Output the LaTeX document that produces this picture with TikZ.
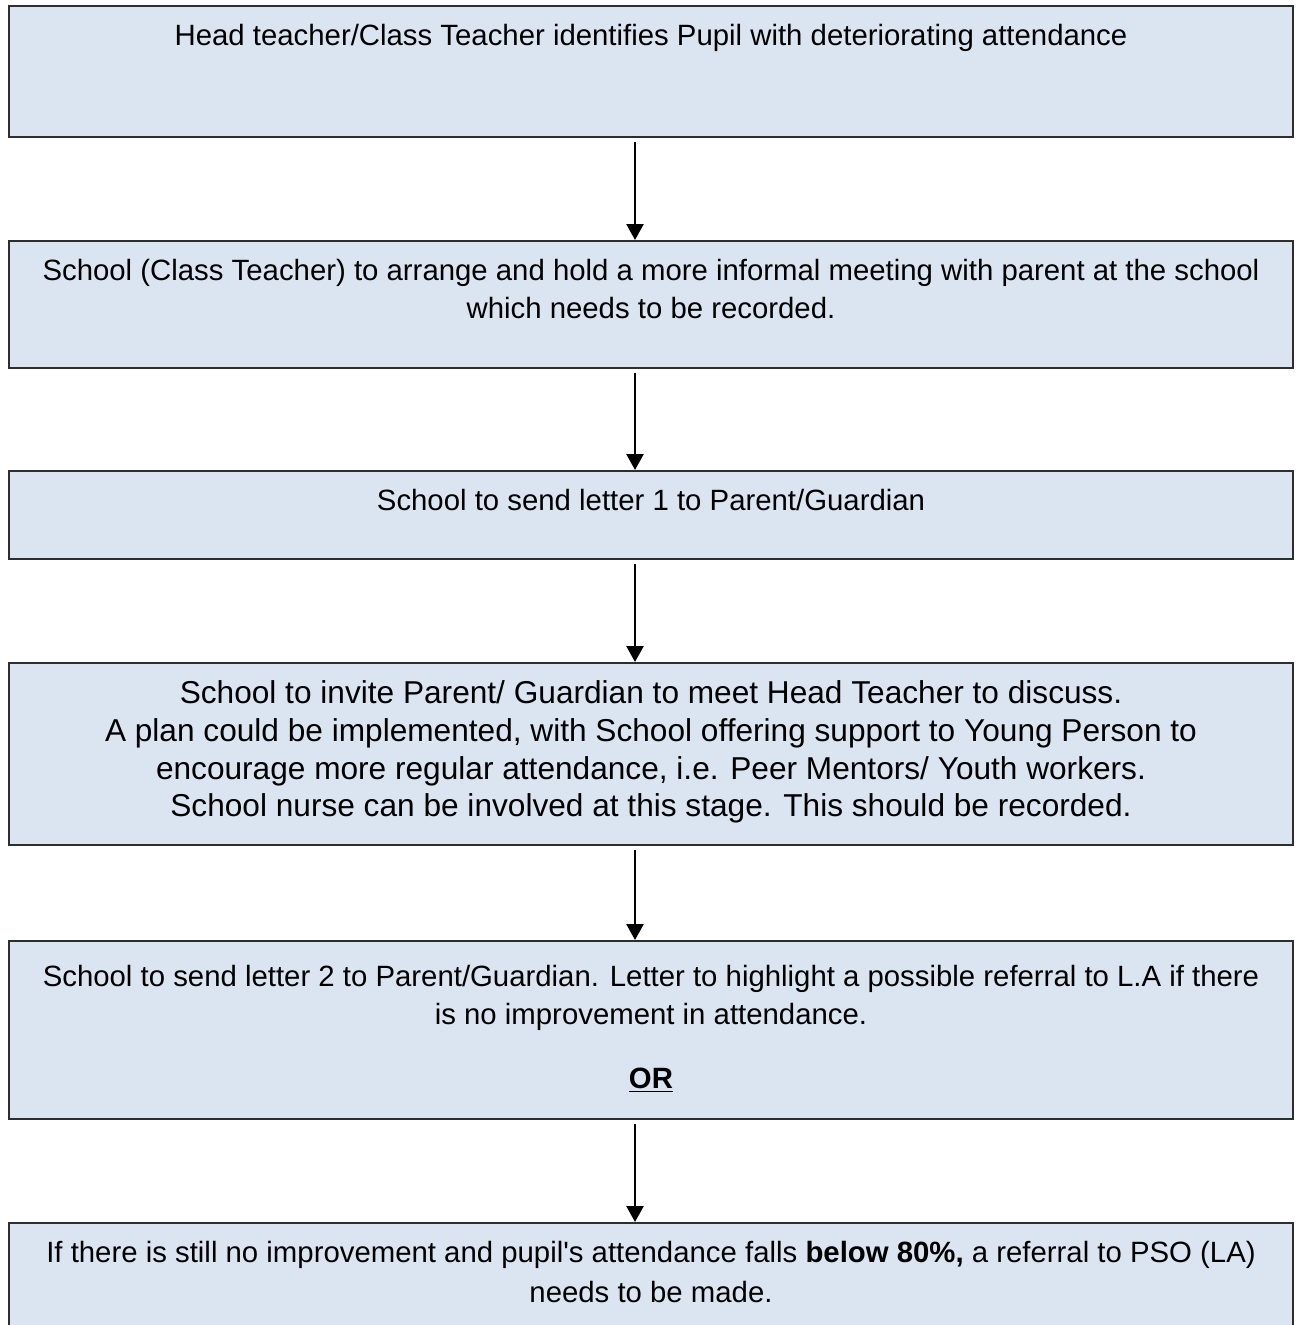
\documentclass[tikz,border=0pt]{standalone}
\usepackage{fontspec}
\setmainfont{Liberation Sans}
\usepackage{tikz}
\usetikzlibrary{positioning, arrows.meta}

\definecolor{boxfill}{HTML}{DBE5F1}
\definecolor{boxline}{HTML}{2E2E2E}

% box contents: height, lines of text (top aligned)
\newcommand{\stagetext}[2]{\parbox[c][#1][t]{25.4cm}{\centering\vspace*{0.36cm}#2}}

\tikzset{
	stage/.style={draw=boxline, fill=boxfill, line width=1.1pt, minimum width=25.68cm,
		anchor=north, inner sep=0pt, font=\fontsize{16.7}{21.6}\selectfont},
	flow/.style={-{Triangle[width=0.34cm, length=0.32cm]}, line width=1.5pt, black,
		shorten <=0.08cm},
}

\begin{document}
\begin{tikzpicture}
	\useasboundingbox (0, 0) rectangle (25.94, -26.5);
	
	% Stages of the procedure
	\node[stage] (identify) at (13.02, -0.10) {\stagetext{2.62cm}{Head teacher/Class Teacher identifies Pupil with deteriorating attendance}};
	\node[stage] (meeting) at (13.02, -4.80) {\stagetext{2.54cm}{School (Class Teacher) to arrange and hold a more informal meeting with parent at the school\\ which needs to be recorded.}};
	\node[stage] (letterone) at (13.02, -9.40) {\stagetext{1.76cm}{School to send letter 1 to Parent/Guardian}};
	\node[stage, font=\fontsize{18}{21.4}\selectfont] (invite) at (13.02, -13.24) {\stagetext{3.64cm}{School to invite Parent/ Guardian to meet Head Teacher to discuss.\\ A plan could be implemented, with School offering support to Young Person to\\ encourage more regular attendance, i.e. Peer Mentors/ Youth workers.\\ School nurse can be involved at this stage. This should be recorded.}};
	\node[stage] (lettertwo) at (13.02, -18.80) {\stagetext{3.56cm}{\vspace*{0.12cm}School to send letter 2 to Parent/Guardian. Letter to highlight a possible referral to L.A if there\\ is no improvement in attendance.\\[0.52cm] \underline{\textbf{OR}}}};
	\node[stage] (referral) at (13.02, -24.44) {\stagetext{2.3cm}{If there is still no improvement and pupil\textquotesingle s attendance falls \textbf{below 80\%,} a referral to PSO (LA)\\[0.04cm] needs to be made.}};
	
	% Arrows between stages
	\draw[flow] ([xshift=-0.32cm]identify.south) -- ([xshift=-0.32cm]meeting.north);
	\draw[flow] ([xshift=-0.32cm]meeting.south) -- ([xshift=-0.32cm]letterone.north);
	\draw[flow] ([xshift=-0.32cm]letterone.south) -- ([xshift=-0.32cm]invite.north);
	\draw[flow] ([xshift=-0.32cm]invite.south) -- ([xshift=-0.32cm]lettertwo.north);
	\draw[flow] ([xshift=-0.32cm]lettertwo.south) -- ([xshift=-0.32cm]referral.north);
\end{tikzpicture}
\end{document}
